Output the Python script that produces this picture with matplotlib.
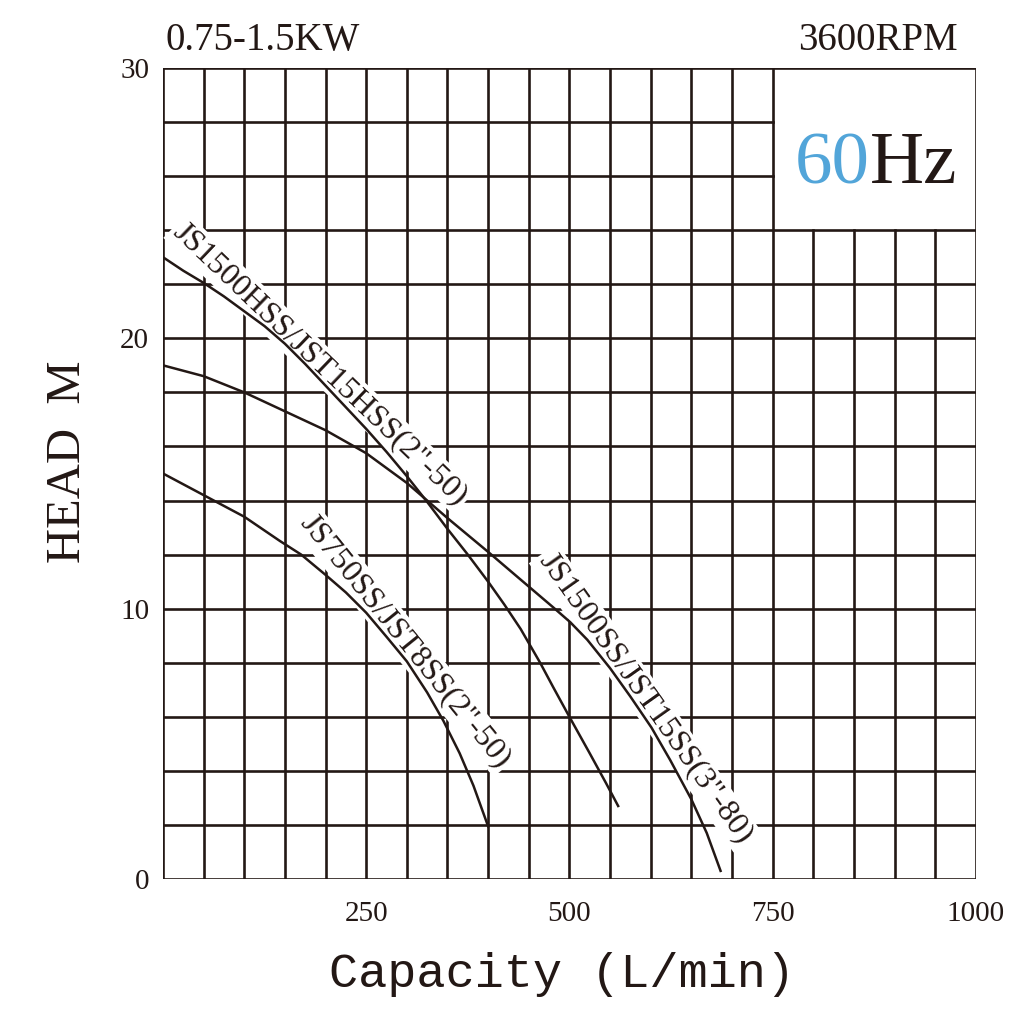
import matplotlib

matplotlib.use("Agg")
import matplotlib.pyplot as plt
import numpy as np

# Pump curves: capacity (L/min) vs head (m)
hss_q = [0, 25, 50, 75, 100, 125, 150, 175, 200, 225, 250, 275, 300, 325, 350,
         375, 400, 420, 440, 464, 480, 500, 525, 545, 560]
hss_h = [23.0, 22.5, 22.05, 21.55, 21.0, 20.45, 19.8, 19.05, 18.25, 17.45, 16.65,
         15.8, 14.9, 13.95, 12.95, 12.0, 11.0, 10.15, 9.25, 8.0, 7.1, 6.0, 4.65,
         3.55, 2.7]

ss15_q = [0, 50, 100, 150, 200, 250, 300, 325, 350, 400, 439, 480, 501, 522, 550,
          575, 601, 624, 650, 669, 686]
ss15_h = [19.0, 18.6, 18.0, 17.3, 16.6, 15.75, 14.65, 14.0, 13.35, 12.1, 11.1,
          10.05, 9.5, 8.85, 7.8, 6.75, 5.6, 4.4, 2.95, 1.7, 0.3]

ss750_q = [0, 50, 100, 144, 170, 200, 225, 250, 275, 300, 325, 345, 365, 382, 400]
ss750_h = [15.0, 14.2, 13.4, 12.5, 12.0, 11.25, 10.6, 9.85, 8.96, 8.05, 6.9, 5.85,
           4.65, 3.45, 1.95]

labels = ['JS1500HSS/JST15HSS(2"-50)', 'JS1500SS/JST15SS(3"-80)', 'JS750SS/JST8SS(2"-50)']
x_ticks = [250, 500, 750, 1000]
y_ticks = [0, 10, 20, 30]

ink = "#231815"
serif = "Liberation Serif"

fig = plt.figure(figsize=(10.25, 10.19), dpi=100)
ax = fig.add_axes([0.159, 0.1374, 0.793, 0.7959])
ax.set_xlim(0, 1000)
ax.set_ylim(0, 30)
for s in ax.spines.values():
    s.set_visible(False)

# grid, with the empty box in the top right for the 60Hz mark
lw = 1.9
for y in np.arange(0, 31, 2):
    x_end = 750 if 24 < y < 30 else 1000
    ax.plot([0, x_end], [y, y], color=ink, lw=lw, zorder=1, solid_capstyle="projecting")
for x in np.arange(0, 1001, 50):
    y_end = 24 if 750 < x < 1000 else 30
    ax.plot([x, x], [0, y_end], color=ink, lw=lw, zorder=1, solid_capstyle="projecting")

for q, h in [(hss_q, hss_h), (ss15_q, ss15_h), (ss750_q, ss750_h)]:
    ax.plot(q, h, color=ink, lw=1.8, zorder=4, solid_joinstyle="round")

# curve names sit on the curves, baseline just above the line
box = dict(facecolor="white", edgecolor="none", pad=2)
kw = dict(family=serif, fontsize=23, color=ink, ha="center", va="baseline",
          rotation_mode="anchor", bbox=box, zorder=3)
ax.text(187, 18.86, labels[0], rotation=-43.7, **kw)
ax.text(586, 6.54, labels[1], rotation=-54.7, **kw)
ax.text(291, 8.64, labels[2], rotation=-51.0, **kw)

ax.set_xticks(x_ticks)
ax.set_yticks(y_ticks)
ax.tick_params(length=0, labelsize=21, colors=ink)
ax.tick_params(axis="x", pad=16)
ax.tick_params(axis="y", pad=10)
for t in ax.get_xticklabels() + ax.get_yticklabels():
    t.set_family(serif)

fig.text(0.161, 0.951, "0.75-1.5KW", family=serif, fontsize=28, color=ink,
         ha="left", va="baseline")
fig.text(0.9346, 0.951, "3600RPM", family=serif, fontsize=28, color=ink,
         ha="right", va="baseline")
fig.text(0.8488, 0.8204, "60", family=serif, fontsize=54, color="#52a5d9",
         ha="right", va="baseline")
fig.text(0.8488, 0.8204, "Hz", family=serif, fontsize=54, color=ink,
         ha="left", va="baseline")

fig.text(0.066, 0.547, "HEAD  M", family=serif, fontsize=35, color=ink,
         rotation=90, ha="center", va="center")
fig.text(0.548, 0.0432, "Capacity (L/min)", family="Liberation Mono", fontsize=35,
         color=ink, ha="center", va="center")

fig.savefig("out.png", dpi=100, facecolor="white")
